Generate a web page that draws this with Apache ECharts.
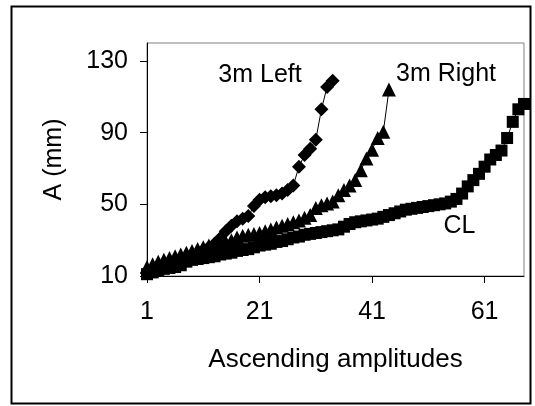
<!DOCTYPE html>
<html><head><meta charset="utf-8">
<script src="https://cdn.jsdelivr.net/npm/echarts@6/dist/echarts.min.js"></script>
<style>html,body{margin:0;padding:0;background:#fff}#c{width:535px;height:406px}</style>
</head><body><div id="c"></div>
<script>
const xTicks = [1, 21, 41, 61];
const yTicks = [10, 50, 90, 130];
const seriesNames = ['3m Left', '3m Right', 'CL'];
const left3m = [12,13,14,15,16,17,18.5,20,21.5,23, 24.5,26,28,31,35,38,40.5,42,43.5,49, 52.5,54,54.5,55,56,58,60.5,71,77.5,81, 86,103,115.5,119];
const right3m = [15,16.5,18,19,20,21,22,23,24,25, 26,27,27.5,28,29,30,31.5,32.5,33,33.5, 34,35,36,37,38,39,40,41,42.5,44, 48,49.5,50.5,51.5,55,58,60.5,63.5,69,75.5, 80.5,87,90.5,114];
const clVals = [11,12,13,14,14.5,15,16,18,19,19.5, 20,20.5,21,22,22.5,23,24,24.5,25,26, 27,27.5,28,29,29.5,30.5,31.5,32,33,33.5, 34,34.5,35,35.5,36,37.5,39,40,40.5,41, 41.5,42,43,44,45,46,47,47.5,48,48.5, 49,49.5,50,50.5,51.5,53,56,60,63.5,67, 71,75,77.5,80,87,96,103,106];

function pairs(a) { return a.map((v, i) => [i + 1, v]); }
const font = "'Liberation Sans', Arial, sans-serif";
const chart = echarts.init(document.getElementById('c'));
function mk(name, data, symbol, size) {
  return {
    name: name, type: 'line', data: pairs(data), symbol: symbol, symbolSize: size,
    showAllSymbol: true, itemStyle: { color: '#000' },
    lineStyle: { color: '#000', width: 1 }, emphasis: { disabled: true }
  };
}
chart.setOption({
  animation: false,
  grid: { left: 147, top: 43, right: 11, bottom: 130, show: true, borderColor: '#808080', borderWidth: 1 },
  xAxis: {
    type: 'value', min: 1, max: 68,
    name: 'Ascending amplitudes', nameLocation: 'middle', nameGap: 71,
    nameTextStyle: { fontSize: 26, color: '#000', fontFamily: font },
    axisLine: { show: true, onZero: false, lineStyle: { color: '#000', width: 1 } },
    axisTick: { show: true, length: 7, customValues: xTicks, lineStyle: { color: '#000' } },
    axisLabel: { customValues: xTicks, fontSize: 25, color: '#000', margin: 24, fontFamily: font },
    splitLine: { show: false }
  },
  yAxis: {
    type: 'value', min: 10, max: 140,
    name: 'A (mm)', nameLocation: 'middle', nameGap: 80, nameRotate: 90,
    nameTextStyle: { fontSize: 25, color: '#000', fontFamily: font },
    axisLine: { show: true, onZero: false, lineStyle: { color: '#000', width: 1 } },
    axisTick: { show: true, length: 7, customValues: yTicks, lineStyle: { color: '#000' } },
    axisLabel: { customValues: yTicks, fontSize: 25, color: '#000', margin: 19, fontFamily: font },
    splitLine: { show: false }
  },
  graphic: [
    { type: 'rect', shape: { x: 11.5, y: 6.5, width: 519, height: 397 }, style: { fill: null, stroke: '#000', lineWidth: 2 }, silent: true },
    { type: 'text', x: 260, y: 75, style: { text: seriesNames[0], fontSize: 25, fontFamily: font, fill: '#000', align: 'center', verticalAlign: 'middle' } },
    { type: 'text', x: 446, y: 74, style: { text: seriesNames[1], fontSize: 25, fontFamily: font, fill: '#000', align: 'center', verticalAlign: 'middle' } },
    { type: 'text', x: 459.5, y: 226, style: { text: seriesNames[2], fontSize: 25, fontFamily: font, fill: '#000', align: 'center', verticalAlign: 'middle' } }
  ],
  series: [
    mk(seriesNames[0], left3m, 'diamond', 14),
    mk(seriesNames[1], right3m, 'triangle', 14),
    mk(seriesNames[2], clVals, 'rect', 12)
  ]
});
</script></body></html>
